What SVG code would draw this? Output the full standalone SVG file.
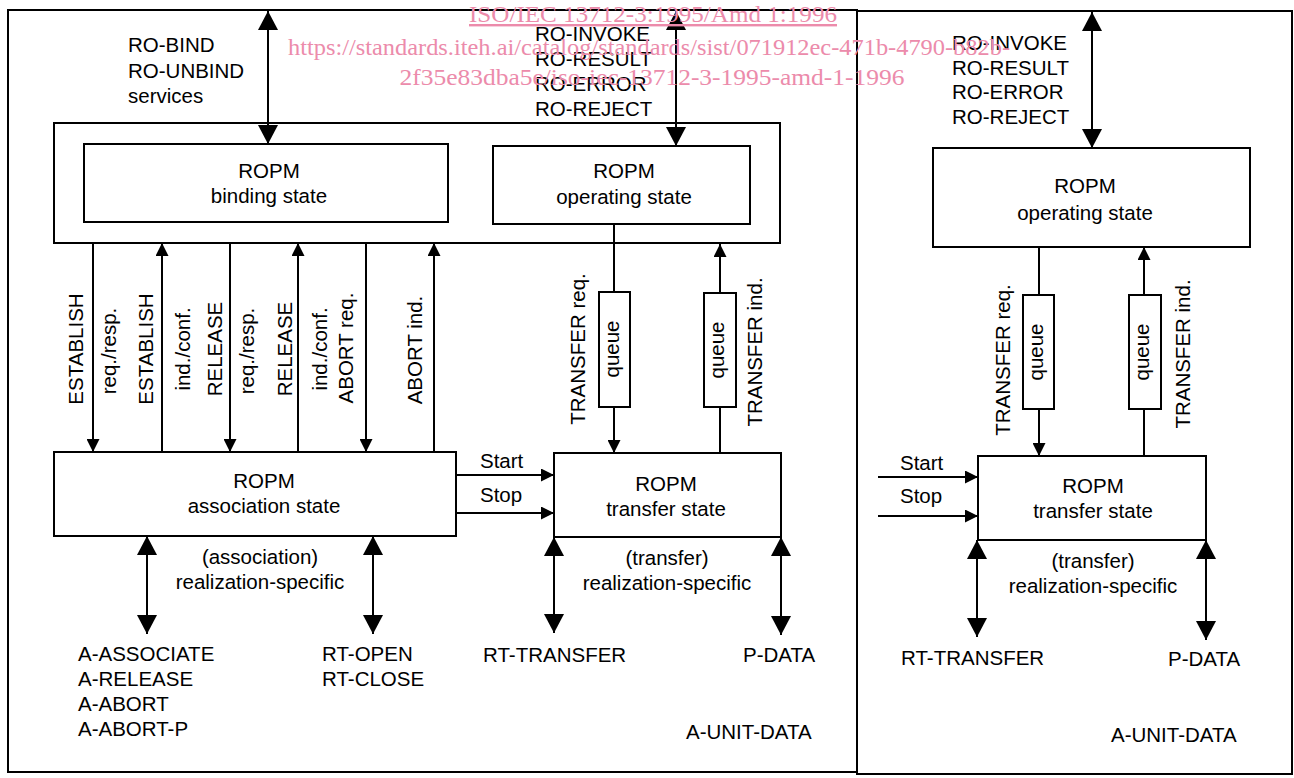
<svg xmlns="http://www.w3.org/2000/svg" width="1294" height="778" viewBox="0 0 1294 778">
<defs>
<style>
.t{font-family:"Liberation Sans",Arial,sans-serif;font-size:20.5px;fill:#000}
.c{text-anchor:middle}
.box{fill:#fff;stroke:#000;stroke-width:2}
.frame{fill:none;stroke:#000;stroke-width:2}
.ln{stroke:#000;stroke-width:2;fill:none}
.big{marker-start:url(#big);marker-end:url(#big)}
.arr{marker-end:url(#sm)}
.wm{font-family:"Liberation Serif","Times New Roman",serif;font-size:24px;fill:#ec8bab;text-anchor:middle}
</style>
<marker id="big" viewBox="0 0 19 20" refX="19" refY="10" markerWidth="19" markerHeight="20" markerUnits="userSpaceOnUse" orient="auto-start-reverse"><path d="M0,0L19,10L0,20z"/></marker>
<marker id="sm" viewBox="0 0 13 13" refX="13" refY="6.5" markerWidth="13" markerHeight="13" markerUnits="userSpaceOnUse" orient="auto"><path d="M0,0L13,6.5L0,13z"/></marker>
</defs>
<rect width="1294" height="778" fill="#fff"/>

<g id="frames">
<rect class="frame" x="8" y="10" width="849" height="762"/>
<rect class="frame" x="857" y="11" width="435" height="763"/>
<rect id="container" class="frame" x="54" y="123" width="726" height="120"/>
</g>

<g id="binding-state">
<rect class="box" x="84" y="144" width="364" height="78"/>
<text class="t c" x="269" y="178">ROPM</text>
<text class="t c" x="269" y="203">binding state</text>
</g>

<g id="operating-state-left">
<rect class="box" x="493" y="146" width="257" height="78"/>
<text class="t c" x="624" y="178">ROPM</text>
<text class="t c" x="624" y="204">operating state</text>
</g>

<g id="association-state">
<rect class="box" x="54" y="452" width="402" height="84"/>
<text class="t c" x="264" y="488">ROPM</text>
<text class="t c" x="264" y="513">association state</text>
</g>

<g id="transfer-state-left">
<rect class="box" x="554" y="453" width="227" height="84"/>
<text class="t c" x="666" y="491">ROPM</text>
<text class="t c" x="666" y="516">transfer state</text>
</g>

<g id="operating-state-right">
<rect class="box" x="933" y="148" width="317" height="99"/>
<text class="t c" x="1085" y="193">ROPM</text>
<text class="t c" x="1085" y="220">operating state</text>
</g>

<g id="transfer-state-right">
<rect class="box" x="978" y="456" width="228" height="84"/>
<text class="t c" x="1093" y="493">ROPM</text>
<text class="t c" x="1093" y="518">transfer state</text>
</g>

<g id="queue-l1">
<rect class="box" x="599" y="292" width="31" height="115"/>
<text class="t c" transform="translate(619,349) rotate(-90)">queue</text>
</g>
<g id="queue-l2">
<rect class="box" x="704" y="293" width="32" height="114"/>
<text class="t c" transform="translate(724,350) rotate(-90)">queue</text>
</g>
<g id="queue-r1">
<rect class="box" x="1023" y="295" width="31" height="114"/>
<text class="t c" transform="translate(1043,352) rotate(-90)">queue</text>
</g>
<g id="queue-r2">
<rect class="box" x="1129" y="295" width="32" height="114"/>
<text class="t c" transform="translate(1149,352) rotate(-90)">queue</text>
</g>

<g id="connectors">
<line class="ln big" x1="268" y1="11" x2="268" y2="144"/>
<line class="ln big" x1="676" y1="11" x2="676" y2="146"/>
<line class="ln big" x1="1092" y1="12" x2="1092" y2="148"/>

<line class="ln arr" x1="93" y1="243" x2="93" y2="452"/>
<line class="ln arr" x1="162" y1="452" x2="162" y2="243"/>
<line class="ln arr" x1="230" y1="243" x2="230" y2="452"/>
<line class="ln arr" x1="298" y1="452" x2="298" y2="243"/>
<line class="ln arr" x1="366" y1="243" x2="366" y2="452"/>
<line class="ln arr" x1="434" y1="452" x2="434" y2="243"/>

<line class="ln" x1="614" y1="224" x2="614" y2="292"/>
<line class="ln arr" x1="614" y1="407" x2="614" y2="453"/>
<line class="ln" x1="720" y1="453" x2="720" y2="407"/>
<line class="ln arr" x1="720" y1="293" x2="720" y2="244"/>

<line class="ln" x1="1039" y1="247" x2="1039" y2="295"/>
<line class="ln arr" x1="1039" y1="409" x2="1039" y2="456"/>
<line class="ln" x1="1144" y1="456" x2="1144" y2="409"/>
<line class="ln arr" x1="1144" y1="295" x2="1144" y2="247"/>

<line class="ln arr" x1="456" y1="475" x2="554" y2="475"/>
<line class="ln arr" x1="456" y1="513" x2="554" y2="513"/>
<line class="ln arr" x1="878" y1="477" x2="978" y2="477"/>
<line class="ln arr" x1="878" y1="516" x2="978" y2="516"/>

<line class="ln big" x1="147" y1="536" x2="147" y2="634"/>
<line class="ln big" x1="373" y1="536" x2="373" y2="634"/>
<line class="ln big" x1="554" y1="537" x2="554" y2="633"/>
<line class="ln big" x1="781" y1="537" x2="781" y2="635"/>
<line class="ln big" x1="977" y1="540" x2="977" y2="637"/>
<line class="ln big" x1="1206" y1="540" x2="1206" y2="640"/>
</g>

<g id="labels">
<text class="t" x="128" y="52">RO-BIND</text>
<text class="t" x="128" y="78">RO-UNBIND</text>
<text class="t" x="128" y="103">services</text>

<text class="t" x="535" y="41">RO-INVOKE</text>
<text class="t" x="535" y="66">RO-RESULT</text>
<text class="t" x="535" y="91">RO-ERROR</text>
<text class="t" x="535" y="116">RO-REJECT</text>

<text class="t" x="952" y="50">RO-INVOKE</text>
<text class="t" x="952" y="75">RO-RESULT</text>
<text class="t" x="952" y="99">RO-ERROR</text>
<text class="t" x="952" y="124">RO-REJECT</text>

<text class="t c" transform="translate(83,349) rotate(-90)">ESTABLISH</text>
<text class="t c" transform="translate(116,351) rotate(-90)">req./resp.</text>
<text class="t c" transform="translate(153,349) rotate(-90)">ESTABLISH</text>
<text class="t c" transform="translate(190,349) rotate(-90)">ind./conf.</text>
<text class="t c" transform="translate(222,349) rotate(-90)">RELEASE</text>
<text class="t c" transform="translate(254,351) rotate(-90)">req./resp.</text>
<text class="t c" transform="translate(292,349) rotate(-90)">RELEASE</text>
<text class="t c" transform="translate(327,349) rotate(-90)">ind./conf.</text>
<text class="t c" transform="translate(353,348) rotate(-90)">ABORT req.</text>
<text class="t c" transform="translate(422,350) rotate(-90)">ABORT ind.</text>

<text class="t c" transform="translate(585,349) rotate(-90)">TRANSFER req.</text>
<text class="t c" transform="translate(762,352) rotate(-90)">TRANSFER ind.</text>
<text class="t c" transform="translate(1010,360) rotate(-90)">TRANSFER req.</text>
<text class="t c" transform="translate(1190,354) rotate(-90)">TRANSFER ind.</text>

<text class="t" x="480" y="468">Start</text>
<text class="t" x="480" y="502">Stop</text>
<text class="t" x="900" y="470">Start</text>
<text class="t" x="900" y="503">Stop</text>

<text class="t c" x="260" y="564">(association)</text>
<text class="t c" x="260" y="589">realization-specific</text>
<text class="t c" x="667" y="565">(transfer)</text>
<text class="t c" x="667" y="590">realization-specific</text>
<text class="t c" x="1093" y="568">(transfer)</text>
<text class="t c" x="1093" y="593">realization-specific</text>

<text class="t" x="78" y="661">A-ASSOCIATE</text>
<text class="t" x="78" y="686">A-RELEASE</text>
<text class="t" x="78" y="711">A-ABORT</text>
<text class="t" x="78" y="736">A-ABORT-P</text>
<text class="t" x="322" y="661">RT-OPEN</text>
<text class="t" x="322" y="686">RT-CLOSE</text>

<text class="t" x="483" y="662">RT-TRANSFER</text>
<text class="t" x="743" y="662">P-DATA</text>
<text class="t" x="686" y="739">A-UNIT-DATA</text>

<text class="t" x="901" y="665">RT-TRANSFER</text>
<text class="t" x="1168" y="666">P-DATA</text>
<text class="t" x="1111" y="742">A-UNIT-DATA</text>
</g>

<g id="watermark">
<text class="wm" x="653" y="22" textLength="368" lengthAdjust="spacingAndGlyphs" text-decoration="underline">ISO/IEC 13712-3:1995/Amd 1:1996</text>
<text class="wm" x="649" y="55" textLength="722" lengthAdjust="spacingAndGlyphs">https://standards.iteh.ai/catalog/standards/sist/071912ec-471b-4790-b82b-</text>
<text class="wm" x="652" y="85" textLength="505" lengthAdjust="spacingAndGlyphs">2f35e83dba5e/iso-iec-13712-3-1995-amd-1-1996</text>
</g>
</svg>
